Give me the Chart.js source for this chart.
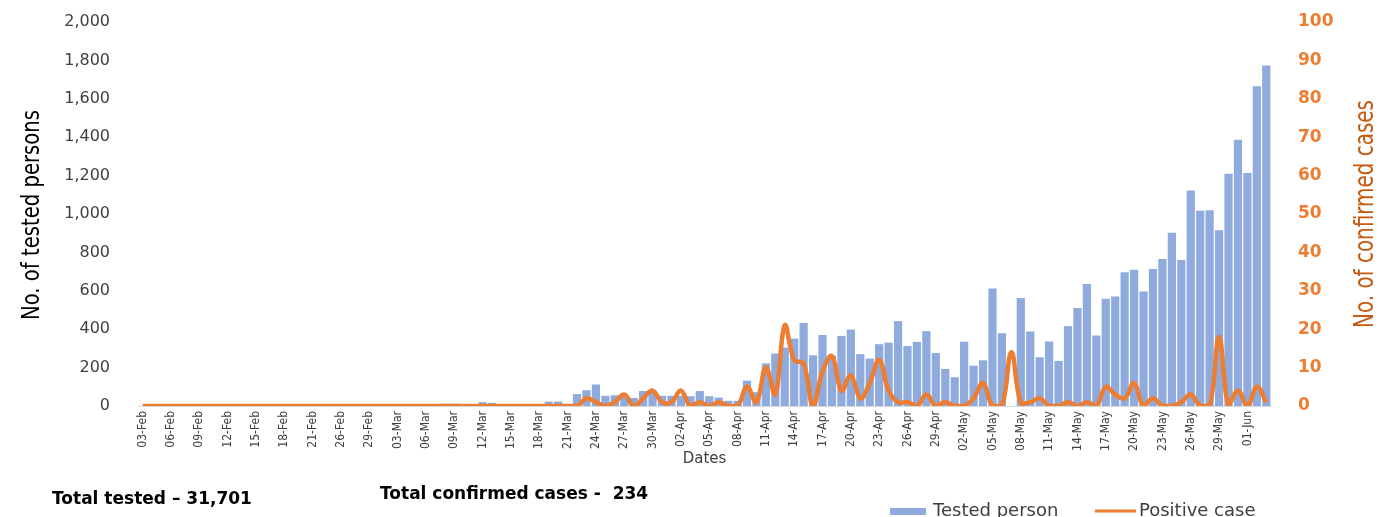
<!DOCTYPE html>
<html lang="en">
<head>
<meta charset="UTF-8" />
<title>Tested persons and positive cases</title>
<script src="https://cdn.jsdelivr.net/npm/chart.js@4"></script>
<style>
  html, body { margin: 0; padding: 0; background: #fff; }
  #wrap { width: 1381px; height: 517px; }
</style>
</head>
<body>
<div id="wrap"><canvas id="testChart" width="1381" height="517"></canvas></div>
<script>
// dates on the x axis (22-23 Feb are not in the series)
const dates = [
  '03-Feb','04-Feb','05-Feb','06-Feb','07-Feb','08-Feb','09-Feb','10-Feb','11-Feb','12-Feb',
  '13-Feb','14-Feb','15-Feb','16-Feb','17-Feb','18-Feb','19-Feb','20-Feb','21-Feb','24-Feb',
  '25-Feb','26-Feb','27-Feb','28-Feb','29-Feb','01-Mar','02-Mar','03-Mar','04-Mar','05-Mar',
  '06-Mar','07-Mar','08-Mar','09-Mar','10-Mar','11-Mar','12-Mar','13-Mar','14-Mar','15-Mar',
  '16-Mar','17-Mar','18-Mar','19-Mar','20-Mar','21-Mar','22-Mar','23-Mar','24-Mar','25-Mar',
  '26-Mar','27-Mar','28-Mar','29-Mar','30-Mar','31-Mar','01-Apr','02-Apr','03-Apr','04-Apr',
  '05-Apr','06-Apr','07-Apr','08-Apr','09-Apr','10-Apr','11-Apr','12-Apr','13-Apr','14-Apr',
  '15-Apr','16-Apr','17-Apr','18-Apr','19-Apr','20-Apr','21-Apr','22-Apr','23-Apr','24-Apr',
  '25-Apr','26-Apr','27-Apr','28-Apr','29-Apr','30-Apr','01-May','02-May','03-May','04-May',
  '05-May','06-May','07-May','08-May','09-May','10-May','11-May','12-May','13-May','14-May',
  '15-May','16-May','17-May','18-May','19-May','20-May','21-May','22-May','23-May','24-May',
  '25-May','26-May','27-May','28-May','29-May','30-May','31-May','01-Jun','02-Jun','03-Jun'
];

const tested = [
  0, 0, 0, 0, 0, 0, 0, 0, 0, 0,
  8, 0, 0, 0, 0, 0, 0, 0, 0, 0,
  0, 0, 0, 0, 0, 0, 0, 0, 0, 0,
  0, 10, 12, 12, 0, 0, 20, 16, 0, 0,
  0, 0, 9, 23, 23, 10, 62, 82, 112, 53,
  56, 56, 42, 78, 78, 53, 53, 53, 51, 78,
  51, 44, 27, 27, 132, 72, 222, 273, 304, 351,
  433, 264, 370, 262, 365, 398, 270, 247, 322, 330,
  442, 313, 334, 390, 276, 193, 150, 335, 210, 238,
  612, 379, 0, 562, 388, 254, 336, 235, 416, 510,
  635, 367, 558, 570, 697, 709, 596, 714, 765, 902,
  760, 1123, 1017, 1020, 916, 1210, 1387, 1213, 1665, 1773
];

const positive = [
  0, 0, 0, 0, 0, 0, 0, 0, 0, 0,
  0, 0, 0, 0, 0, 0, 0, 0, 0, 0,
  0, 0, 0, 0, 0, 0, 0, 0, 0, 0,
  0, 0, 0, 0, 0, 0, 0, 0, 0, 0,
  0, 0, 0, 0, 0, 0, 0, 2, 1, 0,
  1, 3, 0, 2, 4, 1, 1, 4, 0, 1,
  0, 1, 0, 0, 5, 1, 10, 3, 21, 12,
  11, 0, 9, 13, 4, 8, 2, 6, 12, 4,
  1, 1, 0, 3, 0, 1, 0, 0, 2, 6,
  0, 0, 14, 1, 1, 2, 0, 0, 1, 0,
  1, 0, 5, 3, 2, 6, 0, 2, 0, 0,
  1, 3, 0, 0, 18, 0, 4, 0, 5, 1
];

const leftTitle = 'No. of tested persons';
const rightTitle = 'No. of confirmed cases';
const totalTested = 'Total tested \u2013 31,701';
const totalCases = 'Total confirmed cases -  234';
const seriesNames = ['Tested person', 'Positive case'];

const BLUE = '#8FAADC';
const ORANGE = '#ED7D31';
const narrow = '"Liberation Sans Narrow", "DejaVu Sans Condensed", sans-serif';

// vertical title squeezed to a given length, reading bottom to top
function sideTitle(ctx, text, x, y, size, len, color) {
  ctx.save();
  ctx.font = size + 'px ' + narrow;
  const w = ctx.measureText(text).width;
  ctx.translate(x, y);
  ctx.rotate(-Math.PI / 2);
  ctx.scale(len / w, 1);
  ctx.fillStyle = color;
  ctx.textAlign = 'center';
  ctx.textBaseline = 'middle';
  ctx.fillText(text, 0, 0);
  ctx.restore();
}

// fixed axis sizes; tick padding should not push the plot down
function fixWidth(w) {
  return function (scale) {
    scale.width = w;
    scale.paddingTop = 10;
    scale.paddingBottom = 10;
  };
}

// axis titles, footnotes and legend
const extras = {
  id: 'extras',
  afterDraw(chart) {
    const ctx = chart.ctx;
    sideTitle(ctx, leftTitle, 32, 215, 25, 210, '#000');
    sideTitle(ctx, rightTitle, 1366, 214, 26, 228, '#C55A11');

    ctx.save();
    ctx.fillStyle = '#000';
    ctx.textBaseline = 'middle';
    ctx.font = 'bold 17px "DejaVu Sans", sans-serif';
    ctx.fillText(totalTested, 52, 500);
    ctx.fillText(totalCases, 380, 495);

    ctx.fillStyle = BLUE;
    ctx.fillRect(890, 508, 36, 7);
    ctx.strokeStyle = ORANGE;
    ctx.lineWidth = 3;
    ctx.beginPath();
    ctx.moveTo(1095, 511);
    ctx.lineTo(1136, 511);
    ctx.stroke();
    ctx.fillStyle = '#404040';
    ctx.font = '18px "DejaVu Sans", sans-serif';
    ctx.fillText(seriesNames[0], 933, 511);
    ctx.fillText(seriesNames[1], 1139, 511);
    ctx.restore();
  }
};

new Chart(document.getElementById('testChart'), {
  data: {
    labels: dates,
    datasets: [
      {
        type: 'line',
        label: seriesNames[1],
        data: positive,
        yAxisID: 'y1',
        borderColor: ORANGE,
        borderWidth: 4.5,
        pointRadius: 0,
        tension: 0.4,
        order: 0
      },
      {
        type: 'bar',
        label: seriesNames[0],
        data: tested,
        yAxisID: 'y',
        backgroundColor: BLUE,
        borderWidth: 0,
        barPercentage: 0.87,
        categoryPercentage: 1.0,
        order: 1
      }
    ]
  },
  options: {
    responsive: false,
    animation: false,
    locale: 'en-US',
    layout: { padding: { top: 22, left: 0, right: 0, bottom: 0 } },
    plugins: {
      legend: { display: false },
      tooltip: { enabled: false }
    },
    scales: {
      x: {
        grid: { display: false, drawTicks: false },
        border: { color: '#D9D9D9' },
        ticks: {
          autoSkip: false,
          minRotation: 90,
          maxRotation: 90,
          padding: 5,
          color: '#404040',
          font: { family: narrow, size: 12 },
          callback(val, i) { return i % 3 === 0 ? this.getLabelForValue(val) : ''; }
        },
        title: {
          display: true,
          text: 'Dates',
          color: '#404040',
          font: { family: '"DejaVu Sans", sans-serif', size: 15 },
          padding: { top: 0, bottom: 49 }
        },
        afterFit(scale) { scale.height = 111; }
      },
      y: {
        position: 'left',
        min: 0,
        max: 2000,
        grid: { display: false, drawTicks: false },
        border: { display: false },
        ticks: {
          stepSize: 200,
          padding: 28,
          color: '#404040',
          font: { family: '"DejaVu Sans", sans-serif', size: 16 }
        },
        afterFit: fixWidth(138)
      },
      y1: {
        position: 'right',
        min: 0,
        max: 100,
        grid: { display: false, drawTicks: false },
        border: { display: false },
        ticks: {
          stepSize: 10,
          padding: 27,
          color: ORANGE,
          font: { family: '"DejaVu Sans", sans-serif', size: 17, weight: 'bold' }
        },
        afterFit: fixWidth(110)
      }
    }
  },
  plugins: [extras]
});
</script>
</body>
</html>
